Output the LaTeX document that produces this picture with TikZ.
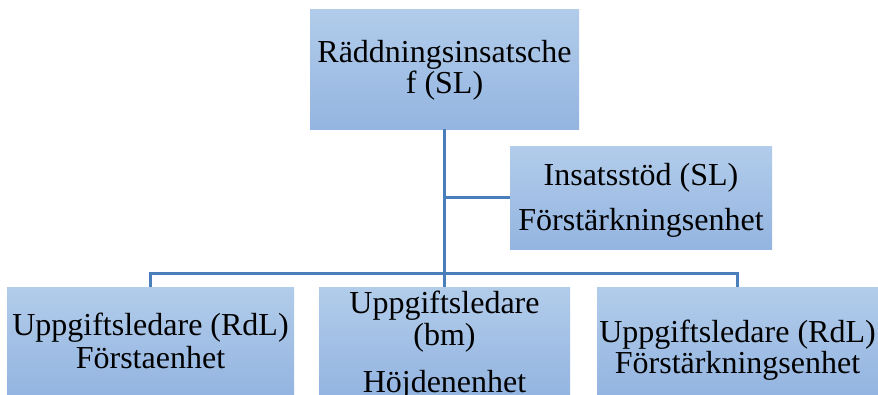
\documentclass[tikz,border=0pt]{standalone}
\usepackage{fontspec}
\setmainfont{Liberation Serif}
\definecolor{boxtop}{RGB}{178,204,234}
\definecolor{boxbot}{RGB}{148,181,225}
\definecolor{linkblue}{RGB}{74,126,187}

\begin{document}
\begin{tikzpicture}[x=1pt, y=-1pt,
    unitbox/.style={rectangle, inner sep=0pt, top color=boxtop, bottom color=boxbot, draw=none},
    lbl/.style={align=center, inner sep=0pt, font=\fontsize{32}{32}\selectfont},
    conn/.style={draw=linkblue, line width=3pt}]
    \useasboundingbox (0,0) rectangle (878,394);

    % Chief box
    \node[unitbox, minimum width=269pt, minimum height=120pt] (chief) at (444.5,69) {};
    \node[lbl] (chieftxt) at (444.5,70.4) {Räddningsinsatsche\\[-1pt]f (SL)};

    % Support box
    \node[unitbox, minimum width=262pt, minimum height=103pt] (support) at (641,197.5) {};
    \node[lbl] (supporttxt) at (641,200) {Insatsstöd (SL)\\[13pt]Förstärkningsenhet};

    % Task leader boxes
    \node[unitbox, minimum width=287pt, minimum height=107pt] (first) at (150.5,340.5) {};
    \node[lbl] (firsttxt) at (150.5,340.5) {Uppgiftsledare (RdL)\\[1pt]Förstaenhet};

    \node[unitbox, minimum width=251pt, minimum height=107pt] (height) at (444.5,340.5) {};
    \node[lbl] (heighttxt) at (444.5,345) {Uppgiftsledare\\(bm)\\[15pt]Höjdenenhet};

    \node[unitbox, minimum width=281pt, minimum height=107pt] (reinf) at (737.5,340.5) {};
    \node[lbl] (reinftxt) at (737.5,350) {Uppgiftsledare (RdL)\\[-1pt]Förstärkningsenhet};

    % Connectors
    \coordinate (bus) at (444.5,273);
    \draw[conn] (chief.south) -- (height.north);
    \draw[conn] (chief.south |- support.west) -- (support.west);
    \draw[conn] (first.north) -- (first.north |- bus) -- (reinf.north |- bus) -- (reinf.north);
\end{tikzpicture}
\end{document}
